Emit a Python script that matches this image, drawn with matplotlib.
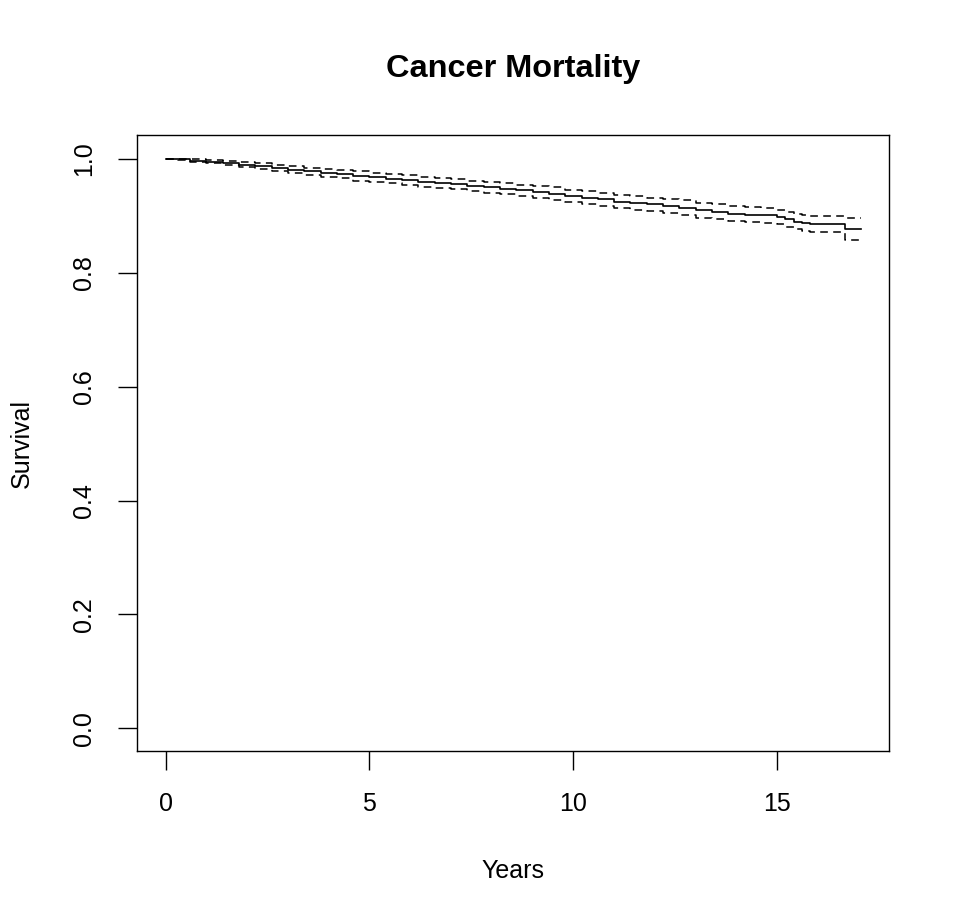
import matplotlib.pyplot as plt
import numpy as np

plt.rcParams['font.family'] = ['Liberation Sans', 'DejaVu Sans']

# Kaplan-Meier estimate (years, survival, 95% CI)
years = [0, 0.3, 0.6, 1.0, 1.4, 1.8, 2.2, 2.6, 3.0, 3.4, 3.8, 4.2, 4.6,
         5.0, 5.4, 5.8, 6.2, 6.6, 7.0, 7.4, 7.8, 8.2, 8.6, 9.0, 9.4, 9.8,
         10.2, 10.6, 11.0, 11.4, 11.8, 12.2, 12.6, 13.0, 13.4, 13.8, 14.2,
         14.6, 15.0, 15.2, 15.4, 15.6, 15.8, 16.66]
surv = [1.000, 0.999, 0.997, 0.995, 0.993, 0.990, 0.987, 0.984, 0.981,
        0.978, 0.975, 0.973, 0.970, 0.968, 0.965, 0.963, 0.960, 0.958,
        0.956, 0.953, 0.950, 0.948, 0.945, 0.942, 0.939, 0.935, 0.932,
        0.929, 0.925, 0.922, 0.920, 0.917, 0.914, 0.910, 0.907, 0.904,
        0.902, 0.901, 0.898, 0.894, 0.890, 0.887, 0.885, 0.877]
upper = [1.000, 1.000, 0.999, 0.998, 0.997, 0.995, 0.992, 0.990, 0.987,
         0.984, 0.982, 0.980, 0.978, 0.976, 0.973, 0.971, 0.969, 0.967,
         0.965, 0.962, 0.960, 0.958, 0.955, 0.953, 0.950, 0.946, 0.943,
         0.940, 0.937, 0.934, 0.932, 0.929, 0.927, 0.923, 0.920, 0.917,
         0.915, 0.914, 0.911, 0.907, 0.903, 0.901, 0.899, 0.897]
lower = [1.000, 0.998, 0.995, 0.992, 0.989, 0.985, 0.982, 0.978, 0.975,
         0.972, 0.968, 0.966, 0.962, 0.960, 0.957, 0.954, 0.951, 0.949,
         0.947, 0.944, 0.941, 0.938, 0.935, 0.932, 0.928, 0.924, 0.921,
         0.918, 0.913, 0.910, 0.908, 0.905, 0.902, 0.897, 0.894, 0.891,
         0.889, 0.888, 0.885, 0.881, 0.877, 0.873, 0.871, 0.858]
end_year = 17.05

fig = plt.figure(figsize=(9.59, 9.24), dpi=100)
ax = fig.add_axes([137/959, 1 - 751/924, (889-137)/959, (751-135)/924])

x = years + [end_year]
for vals, style in [(surv, '-'), (upper, '--'), (lower, '--')]:
    y = vals + [vals[-1]]
    if style == '-':
        ax.step(x, y, where='post', color='black', lw=1.2)
    else:
        ax.step(x, y, where='post', color='black', lw=1.1, linestyle=(0, (5, 3.5)))

ax.set_xlim(-0.7, 17.74)
ax.set_ylim(-0.04, 1.042)
ax.set_xticks([0, 5, 10, 15])
ax.set_yticks([0.0, 0.2, 0.4, 0.6, 0.8, 1.0])
ax.set_yticklabels(['0.0', '0.2', '0.4', '0.6', '0.8', '1.0'], rotation=90, va='center')
ax.tick_params(labelsize=18, length=13.5, width=1, pad=16)
for s in ax.spines.values():
    s.set_linewidth(1)

fig.text(513/959, 1 - 871/924, 'Years', ha='center', va='center', fontsize=18)
fig.text(22/959, 1 - 443/924, 'Survival', ha='center', va='center', fontsize=18, rotation=90)
fig.text(513/959, 1 - 69/924, 'Cancer Mortality', ha='center', va='center',
         fontsize=23.4, fontweight='bold')

fig.savefig('out.png', dpi=100)
